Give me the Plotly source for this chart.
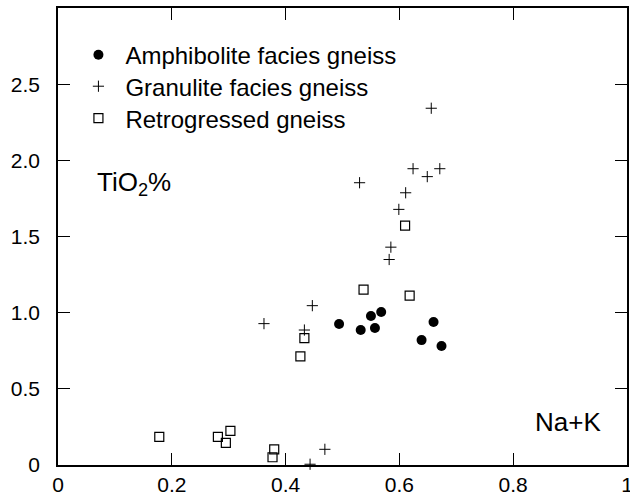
import plotly.graph_objects as go

# Na+K versus TiO2% for three gneiss groups
amph_x = [0.494, 0.532, 0.550, 0.568, 0.557, 0.660, 0.639, 0.674]
amph_y = [0.926, 0.886, 0.978, 1.004, 0.899, 0.939, 0.820, 0.781]

gran_x = [0.656, 0.624, 0.671, 0.649, 0.530, 0.611, 0.599, 0.585, 0.582,
          0.447, 0.362, 0.433, 0.469, 0.443]
gran_y = [2.342, 1.945, 1.945, 1.893, 1.853, 1.787, 1.678, 1.430, 1.349,
          1.046, 0.928, 0.886, 0.103, 0.005]

retro_x = [0.537, 0.618, 0.433, 0.426, 0.610, 0.178, 0.281, 0.295, 0.303,
           0.380, 0.377]
retro_y = [1.151, 1.112, 0.833, 0.713, 1.572, 0.184, 0.184, 0.145, 0.224,
           0.103, 0.051]

x_ticks = [0, 0.2, 0.4, 0.6, 0.8, 1.0]
x_labels = ["0", "0.2", "0.4", "0.6", "0.8", "1"]
y_ticks = [0, 0.5, 1.0, 1.5, 2.0, 2.5]
y_labels = ["0", "0.5", "1.0", "1.5", "2.0", "2.5"]

FONT = "Liberation Sans, Arial, Helvetica, sans-serif"

fig = go.Figure()
fig.add_trace(go.Scatter(
    x=amph_x, y=amph_y, mode="markers", name="Amphibolite facies gneiss",
    legend="legend",
    marker=dict(symbol="circle", size=10, color="black"), cliponaxis=False))
fig.add_trace(go.Scatter(
    x=gran_x, y=gran_y, mode="markers", name="Granulite facies gneiss",
    legend="legend2",
    marker=dict(symbol="cross-thin", size=8, color="black",
                line=dict(width=1, color="black")), cliponaxis=False))
fig.add_trace(go.Scatter(
    x=retro_x, y=retro_y, mode="markers", name="Retrogressed gneiss",
    legend="legend3",
    marker=dict(symbol="square-open", size=9, color="black",
                line=dict(width=1.2, color="black")), cliponaxis=False))

axis_common = dict(
    showgrid=False, zeroline=False, showline=True, linecolor="black",
    linewidth=1.5, mirror="ticks", ticks="inside", ticklen=12, tickwidth=1,
    tickcolor="black", tickfont=dict(family=FONT, size=21, color="black"),
    ticklabeloverflow="allow", automargin=False,
)

fig.update_xaxes(range=[0, 1], tickvals=x_ticks, ticktext=x_labels,
                 **axis_common)
fig.update_yaxes(range=[0, 3], tickvals=y_ticks, ticktext=y_labels,
                 ticklabelstandoff=12, **axis_common)

fig.add_annotation(x=0.065, y=0.615, xref="paper", yref="paper",
                   text="TiO<sub>2</sub>%", showarrow=False,
                   xanchor="left", yanchor="middle",
                   font=dict(family=FONT, size=26, color="black"))
fig.add_annotation(x=0.835, y=0.095, xref="paper", yref="paper",
                   text="Na+K", showarrow=False,
                   xanchor="left", yanchor="middle",
                   font=dict(family=FONT, size=26, color="black"))

legend_style = dict(x=0.0236, xanchor="left", yanchor="middle",
                    bgcolor="rgba(0,0,0,0)", itemwidth=44,
                    font=dict(family=FONT, size=24, color="black"))

fig.update_layout(
    width=630, height=502,
    margin=dict(l=58, r=3, t=8, b=37, autoexpand=False),
    paper_bgcolor="white", plot_bgcolor="white",
    showlegend=True,
    legend=dict(y=0.897, **legend_style),
    legend2=dict(y=0.828, **legend_style),
    legend3=dict(y=0.758, **legend_style),
    font=dict(family=FONT, color="black"),
)

fig.write_html("out.html")
